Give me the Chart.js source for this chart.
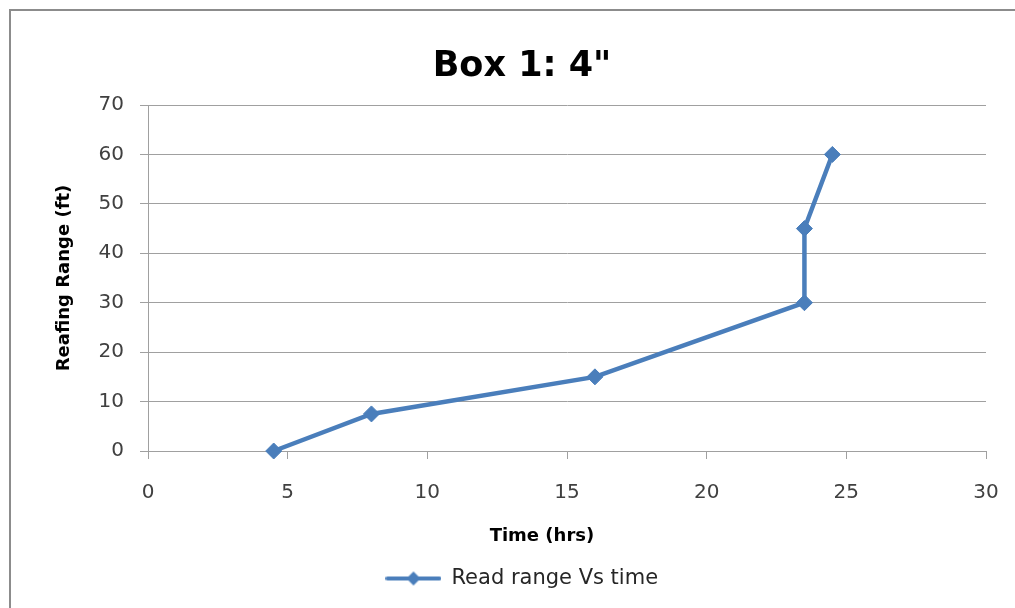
<!DOCTYPE html>
<html>
    <head>
        <title>Box 1</title>
        <style>
            body { margin: 0; overflow: hidden; background: #fff; }
            #frame { position: absolute; left: 9px; top: 9px; width: 1200px; height: 800px; border: 2px solid #8c8c8c; }
            #box { position: absolute; left: 0; top: 0; }
        </style>
    </head>
    <body>
        <div id="frame"></div>
        <canvas id="box" width="1034" height="608"></canvas>
    </body>

    <script src="https://cdn.jsdelivr.net/npm/chart.js@4.4.0/dist/chart.umd.min.js"></script>

    <script>
        // readings for box 1
        const timeHrs = [4.5, 8, 16, 23.5, 23.5, 24.5];
        const readRange = [0, 7.5, 15, 30, 45, 60];
        const seriesName = 'Read range Vs time';

        const BLUE = '#4A7EBB';
        const GRID = '#a0a0a0';

        Chart.defaults.font.family = "'DejaVu Sans', sans-serif";
        Chart.defaults.color = '#404040';

        // legend swatch: short line with a diamond in the middle
        const legendIcon = document.createElement('canvas');
        legendIcon.width = 56;
        legendIcon.height = 18;
        const ic = legendIcon.getContext('2d');
        ic.strokeStyle = BLUE;
        ic.fillStyle = BLUE;
        ic.lineWidth = 4;
        ic.lineCap = 'round';
        ic.beginPath();
        ic.moveTo(2, 9);
        ic.lineTo(54, 9);
        ic.stroke();
        ic.beginPath();
        ic.moveTo(28, 2);
        ic.lineTo(35, 9);
        ic.lineTo(28, 16);
        ic.lineTo(21, 9);
        ic.closePath();
        ic.fill();

        const points = timeHrs.map((t, i) => ({x: t, y: readRange[i]}));

        const chart = new Chart(document.getElementById('box').getContext('2d'), {
            type: 'scatter',
            data: {
                datasets: [{
                    label: seriesName,
                    data: points,
                    showLine: true,
                    borderColor: BLUE,
                    backgroundColor: BLUE,
                    borderWidth: 4.5,
                    pointStyle: 'rectRot',
                    pointRadius: 8,
                    pointBorderWidth: 1,
                    pointBackgroundColor: BLUE,
                    pointBorderColor: BLUE,
                    clip: false,
                }],
            },
            options: {
                responsive: false,
                animation: false,
                layout: { padding: { left: 10, right: 0, top: 0, bottom: 9 } },
                plugins: {
                    title: {
                        display: true,
                        text: 'Box 1: 4"',
                        color: '#000',
                        font: { size: 35, weight: 'bold' },
                        padding: { top: 46, bottom: 17 },
                    },
                    legend: {
                        position: 'bottom',
                        labels: {
                            usePointStyle: true,
                            pointStyleWidth: 55,
                            padding: 10,
                            color: '#262626',
                            font: { size: 21 },
                            generateLabels(c) {
                                const items = Chart.defaults.plugins.legend.labels.generateLabels(c);
                                items.forEach(it => { it.pointStyle = legendIcon; });
                                return items;
                            },
                        },
                    },
                    tooltip: { enabled: false },
                },
                scales: {
                    x: {
                        type: 'linear',
                        min: 0,
                        max: 30,
                        ticks: { stepSize: 5, padding: 22, font: { size: 20 } },
                        grid: { drawOnChartArea: false, drawTicks: true, tickLength: 8, color: GRID },
                        border: { color: GRID },
                        title: {
                            display: true,
                            // trailing spaces pull the title a little left of the plot centre
                            text: 'Time (hrs)' + ' '.repeat(8),
                            color: '#000',
                            font: { size: 18, weight: 'bold' },
                            padding: { top: 0, bottom: 11 },
                        },
                        afterFit(scale) { scale.height = 107; },
                    },
                    y: {
                        type: 'linear',
                        min: 0,
                        max: 70,
                        ticks: { stepSize: 10, padding: 16, font: { size: 20 } },
                        grid: { color: GRID, tickLength: 8 },
                        border: { color: GRID },
                        title: {
                            display: true,
                            text: 'Reafing Range (ft)',
                            color: '#000',
                            font: { size: 18, weight: 'bold' },
                            padding: { top: 44, bottom: 0 },
                        },
                        afterFit(scale) { scale.width = 138; },
                    },
                    // empty axis that only reserves the space right of the plot
                    spacer: {
                        type: 'linear',
                        position: 'right',
                        ticks: { display: false },
                        grid: { display: false, drawTicks: false },
                        border: { display: false },
                        afterFit(scale) { scale.width = 48; },
                    },
                },
            },
        });
    </script>
</html>
